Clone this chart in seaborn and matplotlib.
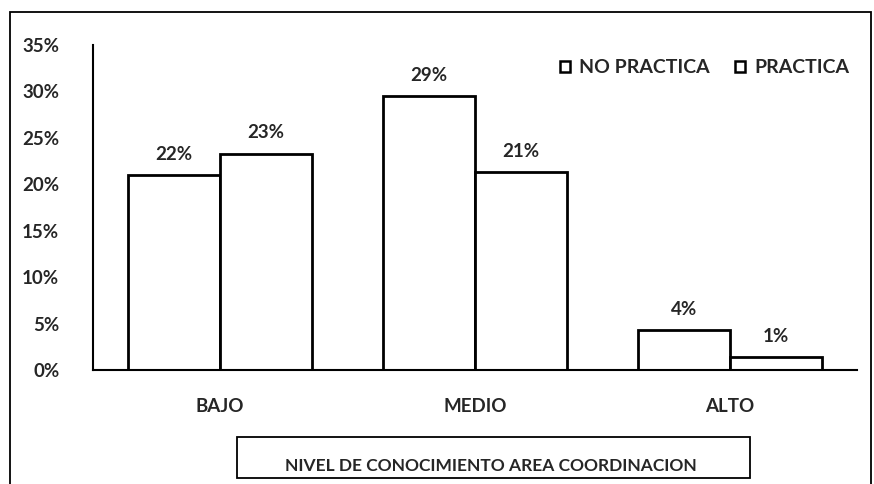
import matplotlib
matplotlib.use("Agg")
import matplotlib.pyplot as plt
import matplotlib.patches as mpatches
from matplotlib.ticker import PercentFormatter
import seaborn as sns
import pandas as pd

# data
niveles = ["BAJO", "MEDIO", "ALTO"]
no_practica = [0.210, 0.295, 0.043]
practica = [0.233, 0.213, 0.014]
labels_no_practica = ["22%", "29%", "4%"]
labels_practica = ["23%", "21%", "1%"]
yticks = [0, 0.05, 0.10, 0.15, 0.20, 0.25, 0.30, 0.35]

df = pd.DataFrame({
    "nivel": niveles * 2,
    "grupo": ["NO PRACTICA"] * 3 + ["PRACTICA"] * 3,
    "valor": no_practica + practica,
})

sns.set_style("white")
plt.rcParams["font.family"] = ["Lato", "DejaVu Sans"]
plt.rcParams["font.weight"] = "bold"

fig = plt.figure(figsize=(8.74, 4.84), dpi=100)
ax = fig.add_axes([0.106, 0.2355, 0.875, 0.6715])

sns.barplot(
    data=df, x="nivel", y="valor", hue="grupo",
    palette=["white", "white"], edgecolor="black", linewidth=2,
    width=0.72, ax=ax, legend=False,
)

for cont, labs in zip(ax.containers, [labels_no_practica, labels_practica]):
    ax.bar_label(cont, labels=labs, padding=9, fontsize=13.5, fontweight="bold")

ax.set_xlim(-0.5, 2.5)
ax.set_ylim(0, 0.35)
ax.set_yticks(yticks)
ax.yaxis.set_major_formatter(PercentFormatter(1.0, decimals=0))
ax.tick_params(axis="both", length=0, labelsize=13.5)
ax.tick_params(axis="x", pad=20)
ax.tick_params(axis="y", pad=24)
ax.set_xlabel("")
ax.set_ylabel("")
for s in ["top", "right"]:
    ax.spines[s].set_visible(False)
for s in ["left", "bottom"]:
    ax.spines[s].set_color("black")
    ax.spines[s].set_linewidth(1.5)

# legend with small square markers
handles = [mpatches.Patch(facecolor="white", edgecolor="black", linewidth=1.8, label=g)
           for g in ["NO PRACTICA", "PRACTICA"]]
ax.legend(handles=handles, loc="center right", bbox_to_anchor=(0.99, 0.93), ncol=2,
          frameon=False, fontsize=14, handlelength=0.5, handleheight=0.5,
          handletextpad=0.5, columnspacing=1.3, borderaxespad=0, borderpad=0)

# boxed axis title
fig.text(0.562, 0.038, "NIVEL DE CONOCIMIENTO AREA COORDINACION", ha="center", va="center",
         fontsize=12.5, fontweight="bold")
fig.patches.append(mpatches.Rectangle((0.271, 0.012), 0.587, 0.085, transform=fig.transFigure,
                                      fill=False, edgecolor="black", linewidth=1.3))

# outer chart frame
fig.patches.append(mpatches.Rectangle((0.011, -0.05), 0.985, 1.025, transform=fig.transFigure,
                                      fill=False, edgecolor="black", linewidth=1.3))

fig.savefig("out.png", dpi=100)
